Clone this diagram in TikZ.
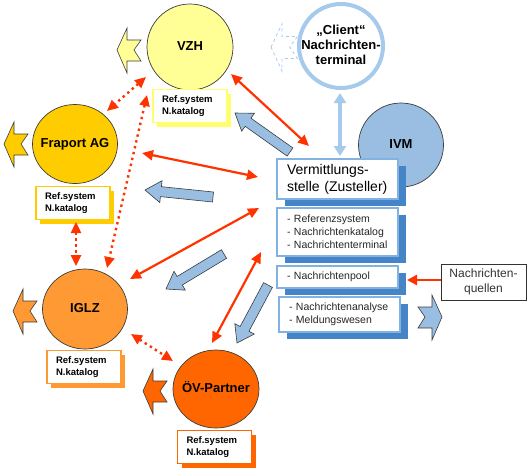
\documentclass[tikz,border=0pt]{standalone}
\usepackage{fontspec}
\setmainfont{Liberation Sans}
\usetikzlibrary{arrows.meta,shapes.geometric,calc,shadows}
\definecolor{vzhY}{RGB}{255,255,150}
\definecolor{vzhL}{RGB}{255,255,110}
\definecolor{frapY}{RGB}{255,204,0}
\definecolor{iglzO}{RGB}{255,153,51}
\definecolor{oevO}{RGB}{255,102,0}
\definecolor{redA}{RGB}{255,51,0}
\definecolor{blueF}{RGB}{153,190,226}
\definecolor{clientB}{RGB}{166,202,236}
\definecolor{boxB}{RGB}{130,178,225}
\definecolor{shadB}{RGB}{70,132,200}
\definecolor{edge}{RGB}{60,60,60}
\newcommand\fatarr[2]{%
  \coordinate (fh) at ($(#2)!16pt!(#1)$);
  \filldraw[fatstyle] ($(#1)!5pt!90:(#2)$) -- ($(fh)!5pt!90:(#2)$) -- ($(fh)!11pt!90:(#2)$) -- (#2)
    -- ($(fh)!11pt!-90:(#2)$) -- ($(fh)!5pt!-90:(#2)$) -- ($(#1)!5pt!-90:(#2)$) -- cycle;}
\newcommand\chevpath{(0,0) -- ++(10,-22) -- ++(0,12) -- ++(14,0) -- ++(-7,10) -- ++(7,11) -- ++(-14,0) -- ++(0,12) -- cycle}
\newcommand\zw[1]{\makebox[0pt]{\begin{tabular}{@{}c@{}}#1\end{tabular}}}
\tikzset{
  circ/.style={ellipse, draw=edge, line width=0.7pt, font=\bfseries\fontsize{13}{15}\selectfont, inner sep=0pt},
  lbl/.style={draw=#1, line width=1.5pt, fill=white, text width=56pt, inner xsep=9pt, minimum height=33pt,
    align=left, font=\bfseries\fontsize{9.5}{12}\selectfont,
    drop shadow={shadow xshift=4pt, shadow yshift=-4pt, fill=#1, opacity=1}},
  vbox/.style={draw=boxB, line width=1.2pt, fill=white, text width=101pt, inner xsep=10pt, align=left,
    drop shadow={shadow xshift=8pt, shadow yshift=-7pt, fill=shadB, opacity=1}},
  redarr/.style={draw=redA, line width=2.2pt, {Triangle[length=11pt,width=10pt]}-{Triangle[length=11pt,width=10pt]}},
  reddot/.style={redarr, line width=2.4pt, dash pattern=on 2.4pt off 3.6pt},
  fatstyle/.style={fill=blueF, draw=edge, line width=0.6pt},
  chev/.style={fill=#1, draw=edge, line width=0.6pt},
}
\begin{document}
\begin{tikzpicture}[x=1pt,y=-1pt]
\useasboundingbox (0,0) rectangle (530,475);
% IVM behind the box
\node[circ, fill=blueF, minimum width=85pt, minimum height=84pt] (ivm) at (401,145) {\zw{IVM}};
% circles
\node[circ, fill=vzhY, minimum width=86pt, minimum height=86pt] (vzh) at (190,47) {\zw{VZH}};
\node[circ, fill=frapY, minimum width=85pt, minimum height=79pt] (frap) at (75,144) {\zw{Fraport AG}};
\node[circ, fill=iglzO, minimum width=85pt, minimum height=80pt] (iglz) at (85,309) {\zw{IGLZ}};
\node[circ, fill=oevO, minimum width=86pt, minimum height=78pt] (oev) at (216,389) {\zw{ÖV-Partner}};
% chevrons
\filldraw[chev=vzhY] [shift={(117,50)}] \chevpath;
\filldraw[chev=frapY] [shift={(4,144)}] \chevpath;
\filldraw[chev=iglzO] [shift={(13,311)}] \chevpath;
\filldraw[chev=oevO] [shift={(143,391)}] \chevpath;
\draw[draw=clientB, line width=0.8pt, dashed] [shift={(271,47)}, xscale=1.1, yscale=1.05] \chevpath;
\filldraw[chev=blueF] [shift={(442,317)}, xscale=-1] \chevpath;
\node[ellipse, draw=clientB, line width=4pt, fill=white, minimum width=84pt, minimum height=84pt, inner sep=0pt,
  font=\bfseries\fontsize{13}{15}\selectfont] (client) at (341,46) {\zw{„Client“\\Nachrichten-\\terminal}};
% labels
\node[lbl=vzhL] (lvzh) at (190,106) {Ref.system\\N.katalog};
\node[lbl=frapY] (lfrap) at (73,203) {Ref.system\\N.katalog};
\node[lbl=iglzO] (liglz) at (84,367) {Ref.system\\N.katalog};
\node[lbl=oevO] (loev) at (214.5,447) {Ref.system\\N.katalog};
% Vermittlungsstelle
\node[vbox, minimum height=40pt, font=\fontsize{14}{17}\selectfont] (vst) at (337.5,179) {Vermittlungs-\\stelle (Zusteller)};
\node[vbox, minimum height=48pt, font=\fontsize{10.5}{13}\selectfont, text=black!85] (ref) at (337.5,232) {- Referenzsystem\\- Nachrichtenkatalog\\- Nachrichtenterminal};
\node[vbox, minimum height=22pt, font=\fontsize{10.5}{13}\selectfont, text=black!85] (pool) at (337.5,277) {- Nachrichtenpool};
\node[vbox, minimum height=35pt, font=\fontsize{10.5}{13}\selectfont, text=black!85] (ana) at (339.5,314.5) {- Nachrichtenanalyse\\- Meldungswesen};
\node[draw=black!80, line width=0.8pt, fill=white, minimum width=85pt, minimum height=36pt, align=center,
  font=\fontsize{12}{15}\selectfont, text=black!80] (quel) at (483.5,282) {Nachrichten-\\quellen};
% client <-> vst
\coordinate (c1) at (340,93);
\coordinate (c2) at (340,156);
\draw[draw=clientB, line width=3.5pt, {Triangle[length=10pt,width=12pt]}-{Triangle[length=10pt,width=12pt]}] (c1) -- (c2);
% red arrows
\coordinate (r1a) at (231,74);  \coordinate (r1b) at (309,146);
\coordinate (r2a) at (142,153); \coordinate (r2b) at (258,177);
\coordinate (r3a) at (130,279); \coordinate (r3b) at (259,208);
\coordinate (r4a) at (212,343); \coordinate (r4b) at (261,252);
\draw[redarr] (r1a) -- (r1b);
\draw[redarr] (r2a) -- (r2b);
\draw[redarr] (r3a) -- (r3b);
\draw[redarr] (r4a) -- (r4b);
\coordinate (q1) at (441,280); \coordinate (q2) at (407,280);
\draw[draw=redA, line width=2.6pt, -{Triangle[length=10pt,width=10pt]}] (q1) -- (q2);
% dotted red arrows
\coordinate (d1a) at (146,77);  \coordinate (d1b) at (107,111);
\coordinate (d2a) at (147,95);  \coordinate (d2b) at (107,268);
\coordinate (d3a) at (76,222);  \coordinate (d3b) at (76,266);
\coordinate (d4a) at (131,334); \coordinate (d4b) at (173,361);
\draw[reddot] (d1a) -- (d1b);
\draw[reddot] (d2a) -- (d2b);
\draw[reddot] (d3a) -- (d3b);
\draw[reddot] (d4a) -- (d4b);
% fat blue arrows
\coordinate (b1a) at (290,152); \coordinate (b1b) at (235,113);
\coordinate (b2a) at (213,197); \coordinate (b2b) at (145,190);
\coordinate (b3a) at (224,254); \coordinate (b3b) at (166,289);
\coordinate (b4a) at (268,285); \coordinate (b4b) at (237,343);
\fatarr{b1a}{b1b}
\fatarr{b2a}{b2b}
\fatarr{b3a}{b3b}
\fatarr{b4a}{b4b}
\end{tikzpicture}
\end{document}
